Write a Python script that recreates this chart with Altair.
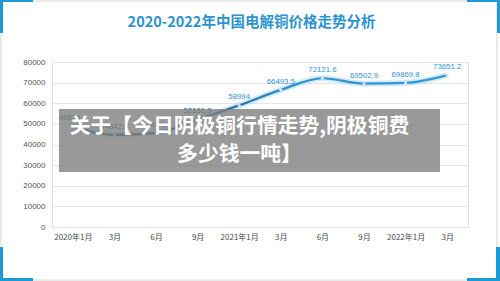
import altair as alt
import pandas as pd

months = ["2020年1月", "3月", "6月", "9月", "2021年1月", "3月", "6月", "9月", "2022年1月", "3月"]
prices = [48824.1, 44642.5, 45654.3, 52161.9, 58994, 66493.5, 72121.6, 69502.9, 69869.8, 73651.2]
price_labels = ["48824.1", "44642.5", "45654.3", "52161.9", "58994", "66493.5",
                "72121.6", "69502.9", "69869.8", "73651.2"]
y_ticks = [0, 10000, 20000, 30000, 40000, 50000, 60000, 70000, 80000]
title_text = "2020-2022年中国电解铜价格走势分析"
overlay_lines = ["关于【今日阴极铜行情走势,阴极铜费", "多少钱一吨】"]

df = pd.DataFrame({"i": list(range(len(months))), "price": prices, "lab": price_labels})

label_js = "[" + ",".join("'" + m + "'" for m in months) + "]"

W, H = 416, 165
PL, PT = 52, 62

FONT = "Noto Sans CJK SC"
BLUE = "#1c9ad6"

x_enc = alt.X("i:O", scale=alt.Scale(type="point", padding=0.5),
              axis=alt.Axis(title=None, labelExpr=label_js + "[datum.value]", labelAngle=0,
                            ticks=False, domain=False, labelFontSize=8, labelColor="#4a4a4a",
                            labelFont=FONT, labelPadding=6, grid=False))
y_enc = alt.Y("price:Q", scale=alt.Scale(domain=[0, 80000], nice=False),
              axis=alt.Axis(title=None, values=y_ticks, format="d", ticks=False, domain=False,
                            labelFontSize=8, labelColor="#555555", labelFont="Liberation Sans",
                            labelPadding=7, gridColor="#e6e6e6", gridWidth=1))

base = alt.Chart(df)

glow = base.mark_line(interpolate="monotone", strokeWidth=6, color="#8fcaec", opacity=0.4).encode(x=x_enc, y=y_enc)

line = base.mark_line(
    interpolate="monotone", strokeWidth=2.2,
    color=alt.Gradient(gradient="linear",
                       stops=[alt.GradientStop(offset=0, color="#1b4869"),
                              alt.GradientStop(offset=0.38, color="#1f5f8c"),
                              alt.GradientStop(offset=0.55, color="#2c90cc"),
                              alt.GradientStop(offset=1, color="#3399d6")],
                       x1=0, x2=1, y1=0, y2=0)
).encode(x=x_enc, y=y_enc)

pts = base.mark_point(filled=True, size=10, color="#cfe8f7", opacity=1).encode(x=x_enc, y=y_enc)

labels = base.mark_text(dy=-8, fontSize=7.8, font="Liberation Sans").encode(
    x=x_enc, y=y_enc, text="lab:N",
    color=alt.condition(alt.datum.i <= 3, alt.value("#1f5478"), alt.value("#2e94d0")))

one = alt.Chart(pd.DataFrame({"a": [0]}))

def rect(x0, y0, x1, y1, **kw):
    return one.mark_rect(**kw).encode(
        x=alt.value(x0 - PL), x2=alt.value(x1 - PL),
        y=alt.value(y0 - PT), y2=alt.value(y1 - PT))

border = rect(1, 1, 497, 280, filled=False, stroke="#d6d6d6", strokeWidth=1)
corners = [
    rect(0, 0, 33, 2, color=BLUE), rect(0, 0, 3, 33, color=BLUE),
    rect(467, 0, 500, 2, color=BLUE), rect(497, 0, 500, 33, color=BLUE),
    rect(0, 247, 3, 281, color=BLUE), rect(0, 278, 33, 281, color=BLUE),
    rect(467, 278, 500, 281, color=BLUE), rect(496, 247, 500, 281, color=BLUE),
]

title = one.mark_text(font=FONT, fontSize=14.5, fontWeight="bold", color="#2b93cf",
                      align="center", baseline="middle").encode(
    x=alt.value(251.5 - PL), y=alt.value(23 - PT), text=alt.value(title_text))

overlay = rect(59, 109, 440, 172, color="#7f7f7f", opacity=0.8)

ov_text1 = one.mark_text(font=FONT, fontSize=20.8, fontWeight="bold", color="white",
                         align="center", baseline="middle").encode(
    x=alt.value(239.5 - PL), y=alt.value(127 - PT), text=alt.value(overlay_lines[0]))
ov_text2 = one.mark_text(font=FONT, fontSize=20.8, fontWeight="bold", color="white",
                         align="center", baseline="middle").encode(
    x=alt.value(239.5 - PL), y=alt.value(155 - PT), text=alt.value(overlay_lines[1]))

chart = alt.layer(border, *corners, title, glow, line, pts, labels, overlay, ov_text1, ov_text2).properties(
    width=W, height=H,
    autosize=alt.AutoSizeParams(type="none"),
    padding={"left": PL, "top": PT, "right": 500 - PL - W, "bottom": 281 - PT - H},
).configure_view(stroke=None).configure(background="white")

chart.save("out.html", embed_options={"renderer": "svg", "actions": False})
